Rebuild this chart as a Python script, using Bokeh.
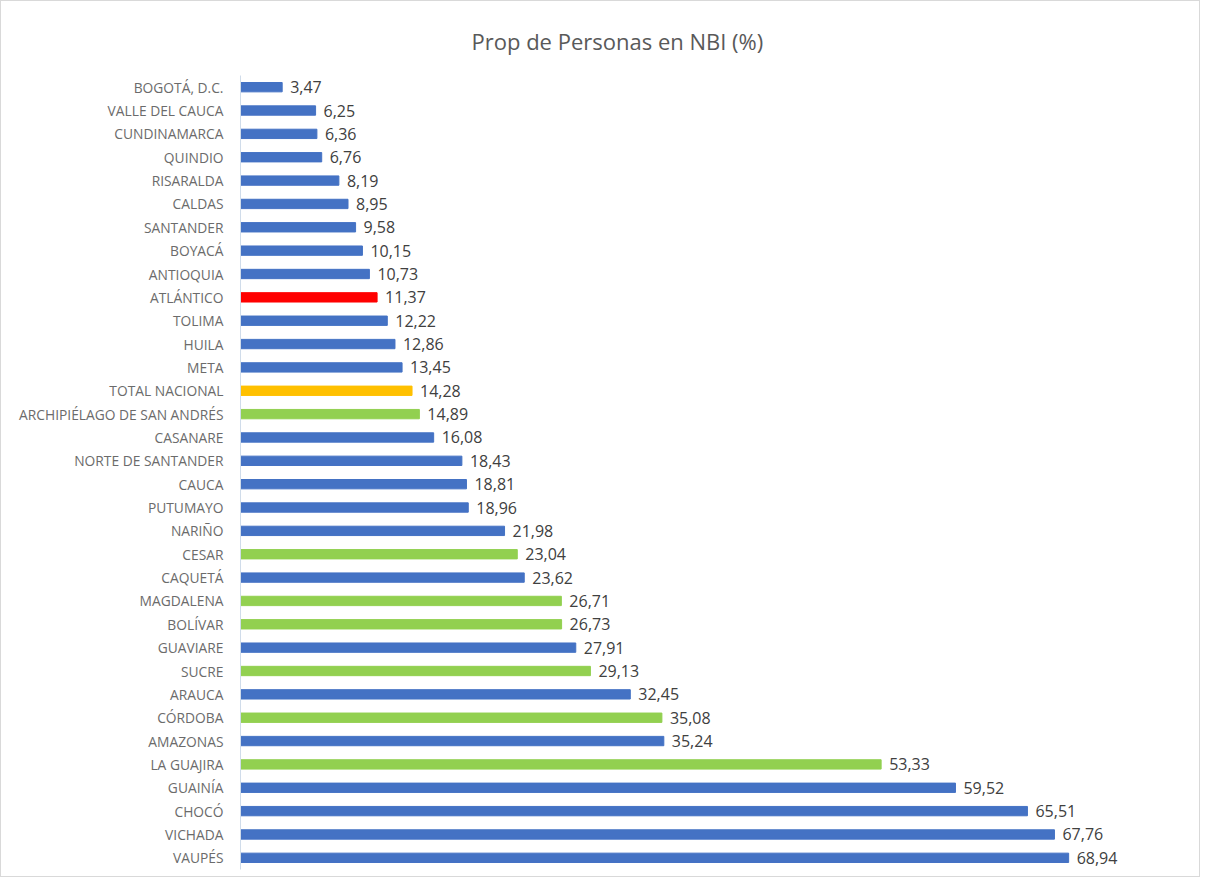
from bokeh.plotting import figure
from bokeh.models import ColumnDataSource, FactorRange, Range1d, LabelSet, Title
from bokeh.core.properties import value
from bokeh.embed import file_html
from bokeh.resources import INLINE

departamentos = ["BOGOTÁ, D.C.", "VALLE DEL CAUCA", "CUNDINAMARCA", "QUINDIO", "RISARALDA",
                 "CALDAS", "SANTANDER", "BOYACÁ", "ANTIOQUIA", "ATLÁNTICO", "TOLIMA", "HUILA",
                 "META", "TOTAL NACIONAL", "ARCHIPIÉLAGO DE SAN ANDRÉS", "CASANARE",
                 "NORTE DE SANTANDER", "CAUCA", "PUTUMAYO", "NARIÑO", "CESAR", "CAQUETÁ",
                 "MAGDALENA", "BOLÍVAR", "GUAVIARE", "SUCRE", "ARAUCA", "CÓRDOBA", "AMAZONAS",
                 "LA GUAJIRA", "GUAINÍA", "CHOCÓ", "VICHADA", "VAUPÉS"]
nbi = [3.47, 6.25, 6.36, 6.76, 8.19, 8.95, 9.58, 10.15, 10.73, 11.37, 12.22, 12.86,
       13.45, 14.28, 14.89, 16.08, 18.43, 18.81, 18.96, 21.98, 23.04, 23.62,
       26.71, 26.73, 27.91, 29.13, 32.45, 35.08, 35.24, 53.33, 59.52, 65.51, 67.76, 68.94]
grupo = ["b", "b", "b", "b", "b", "b", "b", "b", "b", "r", "b", "b",
         "b", "o", "g", "b", "b", "b", "b", "b", "g", "b",
         "g", "g", "b", "g", "b", "g", "b", "g", "b", "b", "b", "b"]
palette = {"b": "#4472C4", "g": "#92D050", "o": "#FFC000", "r": "#FF0000"}
titulo = "Prop de Personas en NBI (%)"

src = ColumnDataSource(dict(
    cat=departamentos,
    val=nbi,
    color=[palette[g] for g in grupo],
    lab=[f"{v:.2f}".replace(".", ",") for v in nbi],
))

p = figure(width=1200, height=877, output_backend="svg", toolbar_location=None,
           y_range=FactorRange(*departamentos[::-1], range_padding=0),
           x_range=Range1d(0, 80), title=None)
p.styles = {"border": "1px solid #d9d9d9"}
p.min_border_left = 239
p.min_border_top = 74
p.min_border_bottom = 9
p.min_border_right = 0
p.outline_line_color = None
p.background_fill_color = "white"
p.border_fill_color = "white"

p.add_layout(Title(text=" ", text_font_size="3px"), "above")
p.add_layout(Title(text=titulo, align="left", offset=231, text_font="Open Sans",
                   text_font_size="22px", text_font_style="normal",
                   text_color="#595959"), "above")

p.hbar(y="cat", right="val", left=0, height=0.4, color="color", source=src)

labels = LabelSet(x="val", y="cat", text="lab", source=src, x_offset=8, y_offset=0,
                  text_baseline="middle", text_font=value("Open Sans"),
                  text_font_size=value("16px"), text_color="#404040")
p.add_layout(labels)

p.xaxis.visible = False
p.xgrid.visible = False
p.ygrid.visible = False
p.yaxis.axis_line_color = "#d0dcea"
p.yaxis.major_tick_line_color = None
p.yaxis.minor_tick_line_color = None
p.yaxis.major_label_standoff = 11
p.yaxis.major_label_text_font = "Open Sans"
p.yaxis.major_label_text_font_size = "13.8px"
p.yaxis.major_label_text_color = "#6b6b6b"

open("out.html", "w").write(file_html(p, INLINE))
